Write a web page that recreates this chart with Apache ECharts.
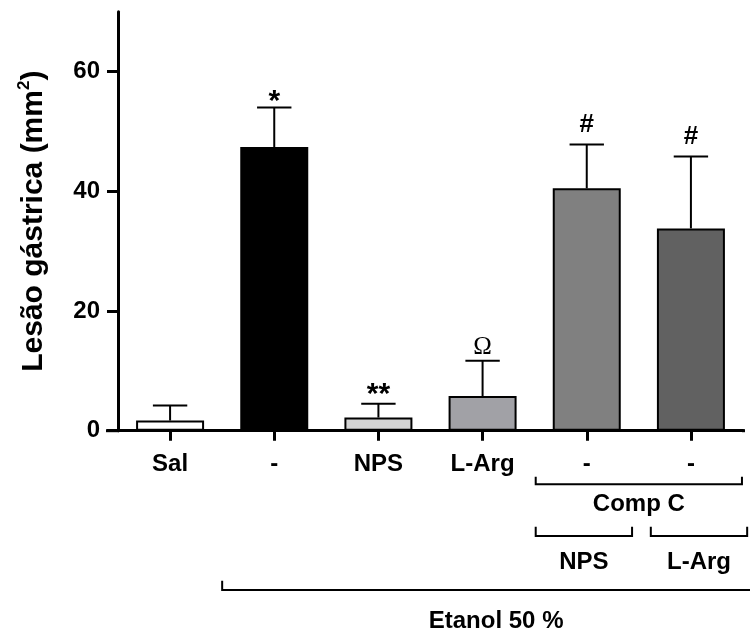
<!DOCTYPE html>
<html><head><meta charset="utf-8">
<script src="https://cdn.jsdelivr.net/npm/echarts@6/dist/echarts.min.js"></script>
<style>html,body{margin:0;padding:0;background:#fff}#c{width:750px;height:631px}</style>
</head><body><div id="c"></div>
<script>
// ---- data ----
const categories = ['Sal', 'Etanol', 'Etanol+NPS', 'Etanol+L-Arg', 'Etanol+CompC', 'Etanol+CompC+L-Arg'];
const tickLabels = ['Sal', '-', 'NPS', 'L-Arg', '-', '-'];
const meanValues = [1.7, 47.4, 2.2, 5.8, 40.5, 33.8];
const semValues = [2.5, 6.6, 2.3, 5.9, 7.3, 12.0];
const significance = ['', '*', '**', 'Ω', '#', '#'];
const yTicks = [0, 20, 40, 60];
const yTitle = 'Lesão gástrica (mm{sup|2})';
const compCLabel = 'Comp C';
const compCSubLabels = ['NPS', 'L-Arg'];
const ethanolLabel = 'Etanol 50 %';

// ---- styles ----
const barColors = ['#ffffff', '#000000', '#d4d4d4', '#a1a1a6', '#808080', '#616161'];
const SANS = '"Liberation Sans", Arial, Helvetica, sans-serif';
const SERIF = '"Liberation Serif", "Times New Roman", serif';
const glyphStyle = {
  '*':  {font: 'bold 30px ' + SANS, dy: 6},
  '**': {font: 'bold 30px ' + SANS, dy: 9},
  'Ω':  {font: 'normal 25px ' + SERIF, dy: 13},
  '#':  {font: 'bold 26px ' + SANS, dy: 20}
};

const chart = echarts.init(document.getElementById('c'), null, {renderer: 'canvas'});

const option = {
  animation: false,
  backgroundColor: '#fff',
  grid: {left: 118, right: 7, top: 11.7, bottom: 200.3, containLabel: false, outerBoundsMode: 'none'},
  xAxis: {
    type: 'category',
    data: categories,
    axisLine: {show: true, lineStyle: {color: '#000', width: 3}},
    axisTick: {show: true, alignWithLabel: true, length: 10, lineStyle: {color: '#000', width: 3}},
    axisLabel: {
      interval: 0, margin: 22, color: '#000', fontFamily: SANS, fontWeight: 'bold', fontSize: 24,
      formatter: (v, i) => tickLabels[i]
    },
    splitLine: {show: false}
  },
  yAxis: {
    type: 'value', min: 0, max: 70,
    axisLine: {show: true, lineStyle: {color: '#000', width: 3}},
    axisTick: {show: true, length: 11, customValues: yTicks, lineStyle: {color: '#000', width: 3}},
    axisLabel: {customValues: yTicks, margin: 18, color: '#000', fontFamily: SANS, fontWeight: 'bold', fontSize: 24},
    splitLine: {show: false},
    name: yTitle,
    nameLocation: 'middle',
    nameRotate: 90,
    nameGap: 66,
    nameTextStyle: {
      color: '#000', fontFamily: SANS, fontWeight: 'bold', fontSize: 30, lineHeight: 36,
      rich: {sup: {color: '#000', fontFamily: SANS, fontWeight: 'bold', fontSize: 17, lineHeight: 17, verticalAlign: 'top'}}
    }
  },
  series: [
    {
      type: 'bar',
      barWidth: 68,
      data: meanValues.map((v, i) => ({value: v, itemStyle: {color: barColors[i]}})),
      itemStyle: {borderColor: '#000', borderWidth: 2},
      z: 2
    },
    {
      type: 'custom',
      z: 3,
      data: meanValues.map((m, i) => [i, m, m + semValues[i]]),
      encode: {x: 0, y: [1, 2]},
      renderItem: (params, api) => {
        const idx = api.value(0);
        const pMean = api.coord([idx, api.value(1)]);
        const pTop = api.coord([idx, api.value(2)]);
        const capHalf = api.size([1, 0])[0] * 0.165;
        const x = pMean[0];
        const children = [
          {type: 'line', shape: {x1: x, y1: pMean[1], x2: x, y2: pTop[1]}, style: {stroke: '#000', lineWidth: 2}},
          {type: 'line', shape: {x1: x - capHalf, y1: pTop[1], x2: x + capHalf, y2: pTop[1]}, style: {stroke: '#000', lineWidth: 2}}
        ];
        const mark = significance[params.dataIndex];
        if (mark) {
          const gs = glyphStyle[mark];
          children.push({type: 'text', style: {text: mark, x: x, y: pTop[1] - gs.dy, font: gs.font, fill: '#000', align: 'center', verticalAlign: 'middle'}});
        }
        return {type: 'group', children};
      }
    }
  ]
};
chart.setOption(option);

// ---- grouping brackets under the axis ----
const px = i => chart.convertToPixel({xAxisIndex: 0}, i);
const band = px(1) - px(0);
const y0 = chart.convertToPixel({yAxisIndex: 0}, 0);
const lineStyle = {stroke: '#000', lineWidth: 2, fill: null};
const txt = (text, x, y) => ({type: 'text', style: {text, x, y, font: 'bold 24px ' + SANS, fill: '#000', align: 'center', verticalAlign: 'middle'}});
const bracket = (xl, xr, yTop, yLine) => ({type: 'polyline', shape: {points: [[xl, yTop], [xl, yLine], [xr, yLine], [xr, yTop]]}, style: lineStyle});

const cL = px(4) - 0.49 * band, cR = px(5) + 0.49 * band;
const nL = px(4) - 0.49 * band, nR = px(4) + 0.435 * band;
const aL = px(5) - 0.385 * band, aR = px(5) + 0.54 * band;
const eL = px(1) - 0.5 * band;

chart.setOption({
  graphic: [
    {type: 'line', shape: {x1: 106, y1: y0, x2: 119, y2: y0}, style: {stroke: '#000', lineWidth: 3}},
    {type: 'line', shape: {x1: px(5) + 0.5 * band - 1, y1: y0, x2: px(5) + 0.5 * band + 2, y2: y0}, style: {stroke: '#000', lineWidth: 3}},
    bracket(cL, cR, 476.7, 484.3),
    txt(compCLabel, (cL + cR) / 2, 504),
    bracket(nL, nR, 526.7, 536),
    bracket(aL, aR, 526.7, 536),
    txt(compCSubLabels[0], (nL + nR) / 2, 562),
    txt(compCSubLabels[1], (aL + aR) / 2, 562),
    {type: 'polyline', shape: {points: [[eL, 580.7], [eL, 590], [760, 590]]}, style: lineStyle},
    txt(ethanolLabel, px(3) + 0.13 * band, 621)
  ]
});
</script>
</body></html>
